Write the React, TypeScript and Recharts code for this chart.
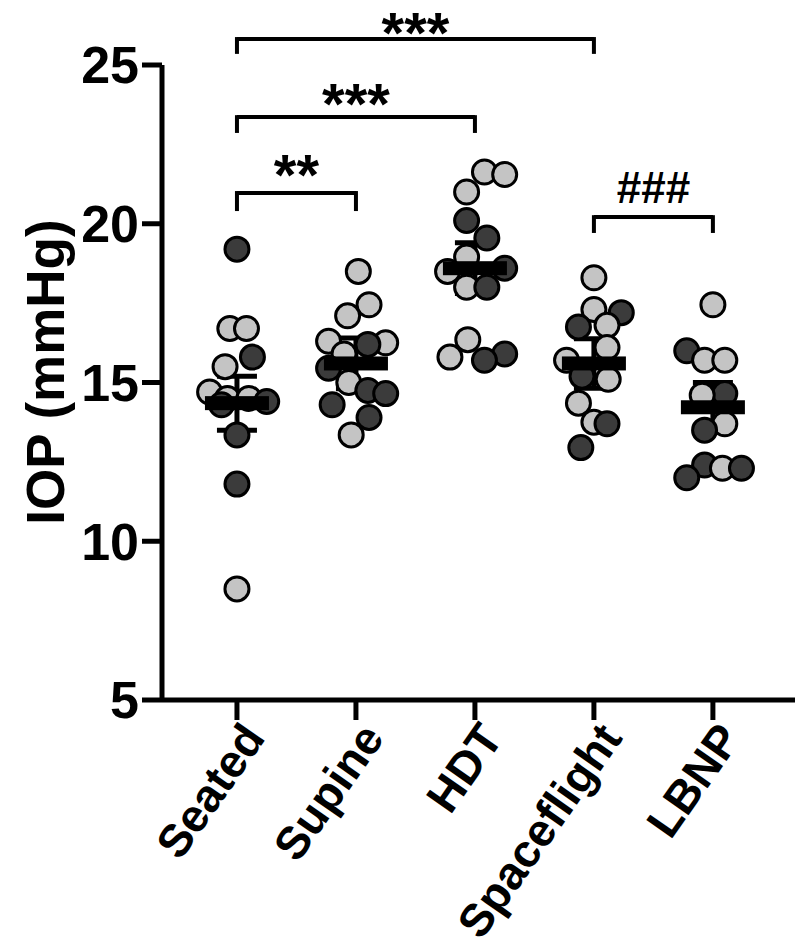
import React from "react";
import {
  ScatterChart,
  Scatter,
  XAxis,
  YAxis,
  ErrorBar,
  ReferenceLine,
  ReferenceDot,
  Label,
} from "recharts";

const categories = ["Seated", "Supine", "HDT", "Spaceflight", "LBNP"];
const yTicks = [5, 10, 15, 20, 25];

// per-group values (mmHg), tone (D = dark, L = light) and horizontal scatter offset
const seatedIOP = [19.2, 16.7, 16.7, 15.8, 15.5, 14.7, 14.5, 14.5, 14.4, 14.3, 13.35, 11.8, 8.5];
const seatedTone = ["D", "L", "L", "D", "L", "L", "L", "L", "D", "D", "D", "D", "L"];
const seatedShift = [0, -0.06, 0.08, 0.13, -0.1, -0.23, -0.08, 0.1, 0.25, -0.13, 0, 0, 0];

const supineIOP = [18.5, 17.45, 17.1, 16.3, 16.25, 16.2, 15.9, 15.45, 15.0, 14.75, 14.65, 14.3, 13.9, 13.35];
const supineTone = ["L", "L", "L", "L", "L", "D", "L", "D", "L", "D", "D", "D", "D", "L"];
const supineShift = [0.02, 0.11, -0.07, -0.23, 0.25, 0.1, -0.1, -0.23, -0.06, 0.1, 0.25, -0.2, 0.11, -0.04];

const hdtIOP = [21.63, 21.55, 21.0, 20.1, 19.55, 18.95, 18.6, 18.5, 18.0, 18.0, 16.35, 15.9, 15.8, 15.7];
const hdtTone = ["L", "L", "L", "D", "D", "L", "D", "L", "L", "D", "L", "D", "L", "D"];
const hdtShift = [0.08, 0.25, -0.07, -0.07, 0.1, -0.07, 0.25, -0.23, -0.07, 0.1, -0.06, 0.25, -0.21, 0.08];

const spaceflightIOP = [18.3, 17.3, 17.2, 16.8, 16.75, 16.1, 15.7, 15.2, 15.1, 14.35, 13.75, 13.7, 12.95];
const spaceflightTone = ["L", "L", "D", "L", "D", "L", "L", "D", "L", "L", "L", "D", "D"];
const spaceflightShift = [0, 0, 0.23, 0.11, -0.13, 0.11, -0.23, -0.1, 0.12, -0.13, 0, 0.11, -0.11];

const lbnpIOP = [17.45, 16.0, 15.7, 15.7, 14.65, 14.6, 13.7, 13.5, 12.4, 12.3, 12.3, 12.0];
const lbnpTone = ["L", "D", "L", "L", "D", "L", "L", "D", "D", "L", "D", "D"];
const lbnpShift = [0, -0.22, -0.07, 0.1, 0.1, -0.09, 0.1, -0.07, -0.07, 0.08, 0.24, -0.22];

const groupMean = [14.35, 15.6, 18.6, 15.6, 14.22];
const groupSem = [0.85, 0.8, 0.8, 0.78, 0.78];

// significance brackets (group index is 1-based)
const bracketFrom = [1, 1, 1, 4];
const bracketTo = [4, 3, 2, 5];
const bracketLevel = [25.82, 23.36, 20.97, 20.21];
const bracketDrop = [0.47, 0.5, 0.57, 0.5];
const bracketMark = ["***", "***", "**", "###"];
const markLevel = [25.38, 23.15, 20.92, 20.65];

const DARK = "#3b3b3b";
const LIGHT = "#c4c4c4";
const FONT = "'Liberation Sans', Arial, sans-serif";

const groups = [
  [seatedIOP, seatedTone, seatedShift],
  [supineIOP, supineTone, supineShift],
  [hdtIOP, hdtTone, hdtShift],
  [spaceflightIOP, spaceflightTone, spaceflightShift],
  [lbnpIOP, lbnpTone, lbnpShift],
] as const;

const points = groups.flatMap(([vals, tones, shifts], gi) =>
  (vals as number[]).map((v, i) => ({
    x: gi + 1 + (shifts as number[])[i],
    y: v,
    tone: (tones as string[])[i],
  }))
);

const means = groupMean.map((m, i) => ({ x: i + 1, y: m, err: groupSem[i] }));

const Dot = (props: any) => (
  <circle
    cx={props.cx}
    cy={props.cy}
    r={12}
    fill={props.payload.tone === "D" ? DARK : LIGHT}
    stroke="#000"
    strokeWidth={3}
  />
);

const MeanBar = (props: any) => (
  <rect x={props.cx - 32} y={props.cy - 7} width={64} height={14} fill="#000" />
);

const CategoryTick = (props: any) => {
  const { x, y, payload } = props;
  const ax = x + 2;
  const ay = y - 3;
  return (
    <text
      x={ax}
      y={ay}
      transform={`rotate(-55 ${ax} ${ay})`}
      textAnchor="end"
      dominantBaseline="hanging"
      fontFamily={FONT}
      fontWeight={700}
      fontSize={46}
      fill="#000"
    >
      {categories[payload.value - 1]}
    </text>
  );
};

const MarkText = (text: string, size: number) => (props: any) => (
  <text
    x={props.cx}
    y={props.cy}
    textAnchor="middle"
    fontFamily={FONT}
    fontWeight={700}
    fontSize={size}
    fill="#000"
  >
    {text}
  </text>
);

export default function App() {
  return (
    <div style={{ width: 800, height: 950, background: "#fff" }}>
      <style>{`body{margin:0}`}</style>
      <ScatterChart
        width={800}
        height={950}
        margin={{ top: 65, right: 5, bottom: 0, left: 0 }}
      >
        <XAxis
          type="number"
          dataKey="x"
          domain={[0.37, 5.69]}
          ticks={[1, 2, 3, 4, 5]}
          interval={0}
          height={250}
          tickSize={20}
          axisLine={{ stroke: "#000", strokeWidth: 5 }}
          tickLine={{ stroke: "#000", strokeWidth: 5 }}
          tick={<CategoryTick />}
        />
        <YAxis
          type="number"
          dataKey="y"
          domain={[5, 25]}
          ticks={yTicks}
          width={162}
          tickSize={20}
          tickMargin={3}
          axisLine={{ stroke: "#000", strokeWidth: 5 }}
          tickLine={{ stroke: "#000", strokeWidth: 5 }}
          tick={{ fill: "#000", fontSize: 52, fontWeight: 700, fontFamily: FONT }}
        >
          <Label
            content={() => (
              <text
                x={64}
                y={372}
                transform="rotate(-90 64 372)"
                textAnchor="middle"
                fontFamily={FONT}
                fontWeight={700}
                fontSize={53}
                fill="#000"
              >
                IOP (mmHg)
              </text>
            )}
          />
        </YAxis>
        {bracketFrom.map((f, i) => (
          <ReferenceLine
            key={`h${i}`}
            segment={[
              { x: f, y: bracketLevel[i] },
              { x: bracketTo[i], y: bracketLevel[i] },
            ]}
            stroke="#000"
            strokeWidth={4}
            ifOverflow="visible"
          />
        ))}
        {bracketFrom.map((f, i) => (
          <ReferenceLine
            key={`l${i}`}
            segment={[
              { x: f, y: bracketLevel[i] + 0.06 },
              { x: f, y: bracketLevel[i] - bracketDrop[i] },
            ]}
            stroke="#000"
            strokeWidth={4}
            ifOverflow="visible"
          />
        ))}
        {bracketTo.map((t, i) => (
          <ReferenceLine
            key={`r${i}`}
            segment={[
              { x: t, y: bracketLevel[i] + 0.06 },
              { x: t, y: bracketLevel[i] - bracketDrop[i] },
            ]}
            stroke="#000"
            strokeWidth={4}
            ifOverflow="visible"
          />
        ))}
        {bracketMark.map((m, i) => (
          <ReferenceDot
            key={`m${i}`}
            x={(bracketFrom[i] + bracketTo[i]) / 2}
            y={markLevel[i]}
            r={0}
            ifOverflow="visible"
            shape={MarkText(m, m === "###" ? 44 : 58)}
          />
        ))}
        <Scatter data={points} shape={<Dot />} isAnimationActive={false} />
        <Scatter data={means} shape={<MeanBar />} isAnimationActive={false}>
          <ErrorBar
            dataKey="err"
            direction="y"
            width={20}
            strokeWidth={5}
            stroke="#000"
            isAnimationActive={false}
          />
        </Scatter>
      </ScatterChart>
    </div>
  );
}
